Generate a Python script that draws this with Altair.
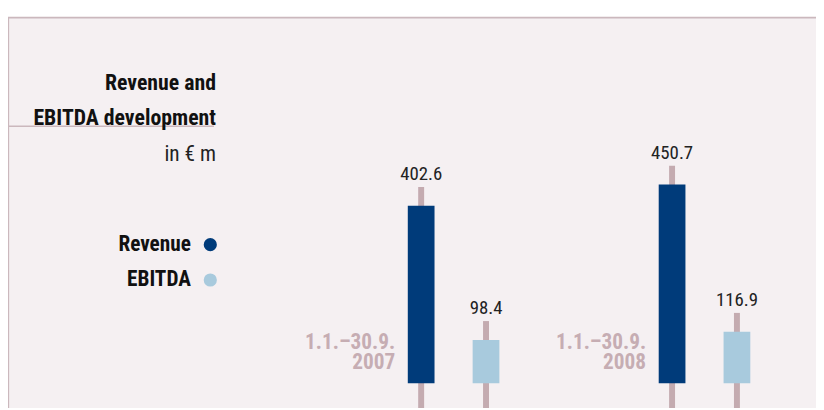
import altair as alt
import pandas as pd

# ---- data ----
periods = ["2007", "2008"]
period_range = ["1.1.–30.9.", "1.1.–30.9."]
series = ["Revenue", "EBITDA"]
revenue = [402.6, 450.7]
ebitda = [98.4, 116.9]
title_lines = ["Revenue and", "EBITDA development"]
unit_label = "in € m"

# ---- styles ----
colors = ["#003b7a", "#a8cadd"]
bg = "#f5f0f2"
border = "#cbb8bd"
stick = "#c4abb0"
date_col = "#c6adb3"
FONT = "Roboto Condensed, Roboto, sans-serif"

rows = []
for i, p in enumerate(periods):
    rows.append({"period": p, "series": "Revenue", "value": revenue[i]})
    rows.append({"period": p, "series": "EBITDA", "value": ebitda[i]})
df = pd.DataFrame(rows)
df["label"] = df["value"].map(lambda v: f"{v:.1f}")

date_df = pd.DataFrame({"period": periods, "range": period_range})
legend_df = pd.DataFrame({"series": series})

W, H = 816, 402

xs = alt.Scale(domain=periods, range=[323.3, 830.1], paddingInner=0, paddingOuter=0)
xo = alt.Scale(domain=series, range=[80.45, 172.95], paddingInner=0.5878, paddingOuter=0)
ys = alt.Scale(domain=[0, 500], range=[377, 154.3], nice=False, zero=False)
cs = alt.Scale(domain=series, range=colors)

one = alt.Data(values=[{}])

panel = alt.Chart(one).mark_rect(fill=bg).encode(
    x=alt.value(0), x2=alt.value(W), y=alt.value(7), y2=alt.value(H)
)
top_border = alt.Chart(one).mark_rule(color=border, strokeWidth=1.7).encode(
    x=alt.value(0), x2=alt.value(W), y=alt.value(7.8)
)
left_border = alt.Chart(one).mark_rule(color=border, strokeWidth=1.5).encode(
    x=alt.value(0.4), y=alt.value(7), y2=alt.value(H)
)
underline = alt.Chart(one).mark_rule(color=border, strokeWidth=1.5).encode(
    x=alt.value(0), x2=alt.value(208), y=alt.value(117.5)
)

base = alt.Chart(df).encode(
    x=alt.X("period:N", scale=xs, axis=None),
    xOffset=alt.XOffset("series:N", scale=xo),
)
sticks = base.mark_rule(strokeWidth=6, color=stick, yOffset=-19).encode(
    y=alt.Y("value:Q", scale=ys, axis=None), y2=alt.value(H)
)
bars = base.mark_bar().encode(
    y=alt.Y("value:Q", scale=ys, axis=None),
    y2=alt.Y2Datum(0),
    color=alt.Color("series:N", scale=cs, legend=None),
)
values = base.mark_text(font=FONT, fontSize=19, color="#222222", baseline="alphabetic", dy=-26).encode(
    y=alt.Y("value:Q", scale=ys, axis=None), text="label:N"
)

dbase = alt.Chart(date_df).encode(
    x=alt.X("period:N", scale=xs, axis=None),
    y=alt.YDatum(0, scale=ys, axis=None),
)
date1 = dbase.mark_text(font=FONT, fontSize=21.5, fontWeight="bold", color=date_col,
                        align="right", baseline="alphabetic", dx=-59, dy=-35).encode(text="range:N")
date2 = dbase.mark_text(font=FONT, fontSize=21.5, fontWeight="bold", color=date_col,
                        align="right", baseline="alphabetic", dx=-59, dy=-14.3).encode(text="period:N")

t1 = alt.Chart(one).mark_text(font=FONT, fontSize=22, fontWeight="bold", color="#111111",
                              align="right", baseline="alphabetic").encode(
    x=alt.value(210), y=alt.value(81), text=alt.value(title_lines[0]))
t2 = alt.Chart(one).mark_text(font=FONT, fontSize=22, fontWeight="bold", color="#111111",
                              align="right", baseline="alphabetic").encode(
    x=alt.value(210), y=alt.value(116), text=alt.value(title_lines[1]))
t3 = alt.Chart(one).mark_text(font=FONT, fontSize=21.5, color="#222222",
                              align="right", baseline="alphabetic").encode(
    x=alt.value(210), y=alt.value(153), text=alt.value(unit_label))

ly = alt.Y("series:N", scale=alt.Scale(domain=series, range=[237, 272.7], padding=0), axis=None)
leg_pts = alt.Chart(legend_df).mark_point(filled=True, opacity=1, size=177, shape="circle").encode(
    x=alt.value(204.3), y=ly, color=alt.Color("series:N", scale=cs, legend=None))
leg_txt = alt.Chart(legend_df).mark_text(font=FONT, fontSize=21.5, fontWeight="bold", color="#111111",
                                         align="right", baseline="alphabetic", dy=6).encode(
    x=alt.value(184.7), y=ly, text="series:N")

chart = alt.layer(
    panel, top_border, left_border, underline,
    sticks, bars, values, date1, date2,
    t1, t2, t3, leg_pts, leg_txt,
).resolve_scale(y="independent").properties(
    width=W, height=H, padding=0, autosize="none", background="white"
).configure_view(stroke=None)

chart.save("out.html", embed_options={"renderer": "svg", "actions": False})
